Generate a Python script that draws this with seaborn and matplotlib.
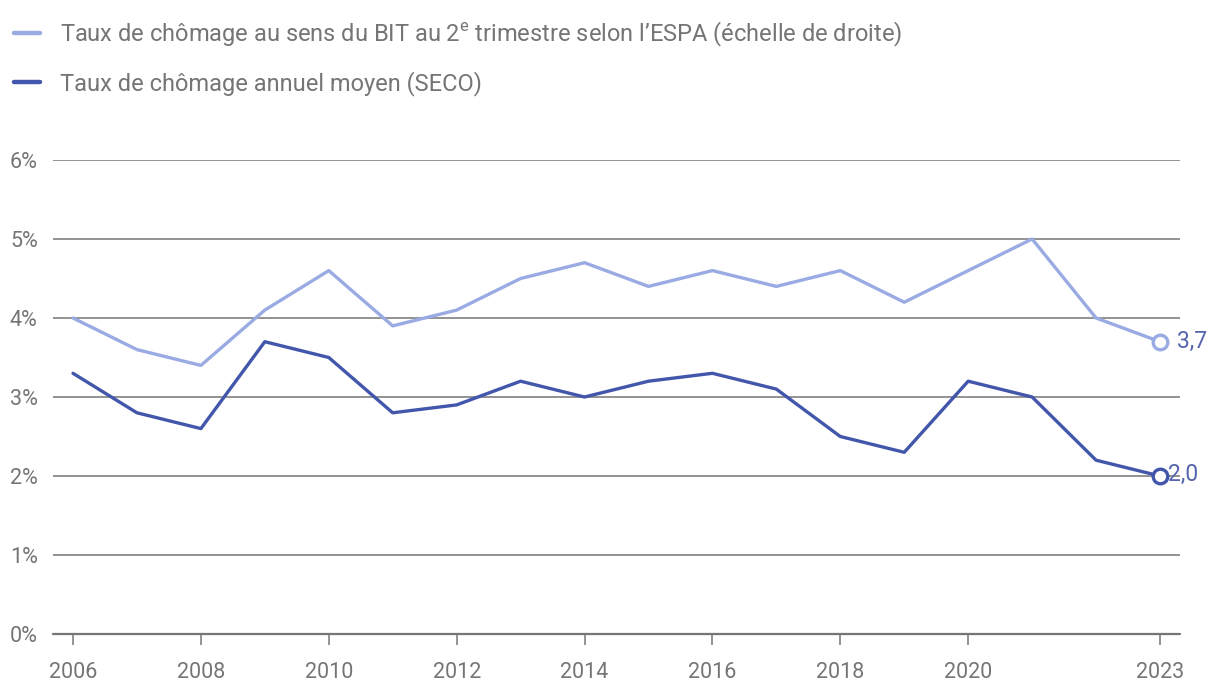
import matplotlib
matplotlib.use("Agg")
import matplotlib.pyplot as plt
import seaborn as sns
import pandas as pd
import numpy as np

years = list(range(2006, 2024))
espa = [4.0, 3.6, 3.4, 4.1, 4.6, 3.9, 4.1, 4.5, 4.7, 4.4, 4.6, 4.4, 4.6, 4.2, 4.6, 5.0, 4.0, 3.7]
seco = [3.3, 2.8, 2.6, 3.7, 3.5, 2.8, 2.9, 3.2, 3.0, 3.2, 3.3, 3.1, 2.5, 2.3, 3.2, 3.0, 2.2, 2.0]
label_espa = "Taux de chômage au sens du BIT au 2$^{\\mathrm{e}}$ trimestre selon l’ESPA (échelle de droite)"
label_seco = "Taux de chômage annuel moyen (SECO)"
xticks = [2006, 2008, 2010, 2012, 2014, 2016, 2018, 2020, 2023]
yticks = [0, 1, 2, 3, 4, 5, 6]

c_light = "#9aabe4"
c_dark = "#4257ab"
c_text = "#757575"
c_grid = "#757575"

sns.set_theme(style="white")
plt.rcParams["font.family"] = ["Roboto", "DejaVu Sans"]
plt.rcParams["mathtext.fontset"] = "custom"
plt.rcParams["mathtext.rm"] = "Roboto"

df = pd.DataFrame({
    "year": years * 2,
    "value": espa + seco,
    "series": [label_espa] * len(years) + [label_seco] * len(years),
})

fig = plt.figure(figsize=(12.2, 6.96), dpi=100)
ax = fig.add_axes([53 / 1220, 1 - 634 / 696, (1180 - 53) / 1220, (634 - 160) / 696])

for y in yticks[1:]:
    ax.axhline(y, color=c_grid, lw=1.1, zorder=1)
ax.axhline(0, color=c_grid, lw=1.6, zorder=1, clip_on=False)

sns.lineplot(data=df, x="year", y="value", hue="series",
             palette={label_espa: c_light, label_seco: c_dark},
             lw=2.4, ax=ax, zorder=3, legend=False)

# end markers
ax.scatter([years[-1]], [espa[-1]], s=110, facecolor="white", edgecolor=c_light, linewidth=2.4, zorder=4, clip_on=False)
ax.scatter([years[-1]], [seco[-1]], s=110, facecolor="white", edgecolor=c_dark, linewidth=2.4, zorder=4, clip_on=False)
ax.annotate(f"{espa[-1]:.1f}".replace(".", ","), (years[-1], espa[-1]), xytext=(12, 0),
            textcoords="offset points", va="center", ha="left", fontsize=16.5, color="#5565ad")
ax.annotate(f"{seco[-1]:.1f}".replace(".", ","), (years[-1], seco[-1]), xytext=(6, 1),
            textcoords="offset points", va="center", ha="left", fontsize=16.5, color="#5565ad")

x0 = 2006 - 20 / 63.94
x1 = 2023 + 20 / 63.94
ax.set_xlim(x0, x1)
ax.set_ylim(0, 6)
ax.set_xticks(xticks)
ax.set_xticklabels([str(t) for t in xticks])
ax.set_yticks(yticks)
ax.set_yticklabels([f"{t}%" for t in yticks])
ax.set_xlabel("")
ax.set_ylabel("")
for s in ax.spines.values():
    s.set_visible(False)
ax.tick_params(axis="x", length=8, width=1.1, color=c_grid, labelsize=15.5, labelcolor=c_text, pad=12, bottom=True, direction="out")
ax.tick_params(axis="y", length=0, labelsize=15.5, labelcolor=c_text, pad=11)

# legend
from matplotlib.lines import Line2D
handles = [Line2D([0], [0], color=c_light, lw=3.2), Line2D([0], [0], color=c_dark, lw=3.2)]
leg = fig.legend(handles, [label_espa, label_seco], loc="upper left", bbox_to_anchor=(-0.004, 1 - 1 / 696),
                 frameon=False, fontsize=17, handlelength=1.1, handletextpad=0.85,
                 labelspacing=0.94, borderaxespad=0.3, borderpad=0.5)
for t in leg.get_texts():
    t.set_color(c_text)

fig.savefig("out.png", dpi=100)
